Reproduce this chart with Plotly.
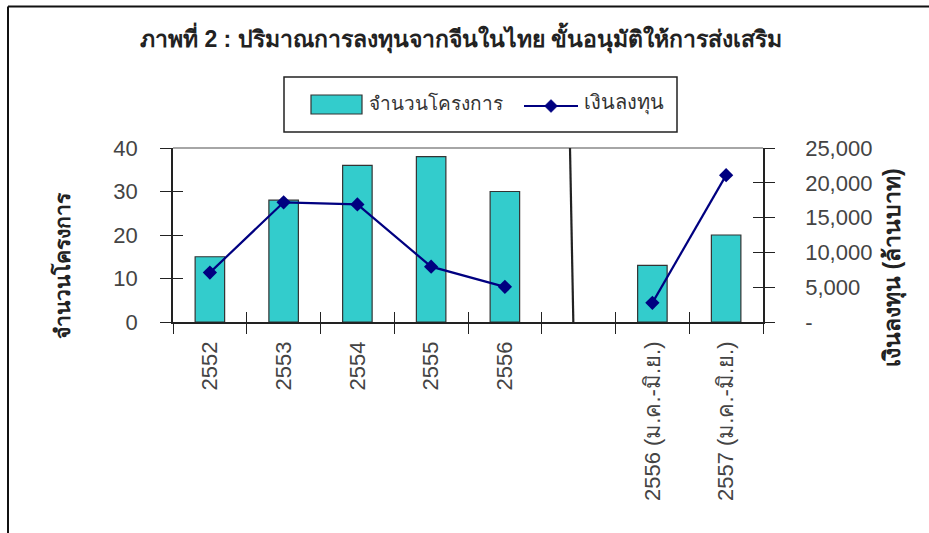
import plotly.graph_objects as go

# Categories (blank slot separates full years from half-year figures)
categories = ["2552", "2553", "2554", "2555", "2556", " ",
              "2556 (ม.ค.-มิ.ย.)", "2557 (ม.ค.-มิ.ย.)"]
projects = [15, 28, 36, 38, 30, None, 13, 20]          # จำนวนโครงการ
investment = [7100, 17200, 16900, 7950, 5050, None, 2750, 21100]  # เงินลงทุน (ล้านบาท)

left_ticks = [0, 10, 20, 30, 40]
right_ticks = [0, 5000, 10000, 15000, 20000, 25000]
right_ticktext = ["-", "5,000", "10,000", "15,000", "20,000", "25,000"]

W, H = 929, 533
L, R, T, B = 173, 763, 148, 322   # plot area edges in pixels

FONT = "Liberation Sans, Arial, sans-serif"
TICK_COLOR = "#444444"
BAR_COLOR = "#33CCCC"
LINE_COLOR = "#000080"


def px_x(p):
    return (p - L) / (R - L)


def px_y(p):
    return (B - p) / (B - T)


fig = go.Figure()

fig.add_trace(go.Bar(
    x=categories, y=projects, name="จำนวนโครงการ",
    marker=dict(color=BAR_COLOR, line=dict(color="#333333", width=1.2)),
    width=0.4, yaxis="y",
))

fig.add_trace(go.Scatter(
    x=categories, y=investment, name="เงินลงทุน",
    mode="lines+markers", connectgaps=False,
    line=dict(color=LINE_COLOR, width=2.2),
    marker=dict(symbol="diamond", size=11, color=LINE_COLOR),
    yaxis="y2",
))

fig.update_layout(
    width=W, height=H,
    margin=dict(l=L, r=W - R, t=T, b=H - B),
    paper_bgcolor="white", plot_bgcolor="white",
    font=dict(family=FONT, color="#222222"),
    showlegend=False,
    xaxis=dict(
        type="category", categoryorder="array", categoryarray=categories,
        range=[-0.5, 7.5], tickson="boundaries",
        showline=True, linecolor="#222222", linewidth=1.5,
        ticks="outside", ticklen=10, tickwidth=1.3, tickcolor="#222222",
        tickangle=-90, tickfont=dict(size=22, color=TICK_COLOR, family=FONT),
        ticklabelstandoff=9,
        showgrid=False, zeroline=False,
    ),
    yaxis=dict(
        range=[0, 40], tickvals=left_ticks,
        showline=True, linecolor="#222222", linewidth=1.5,
        ticks="outside", ticklen=11, tickwidth=1.3, tickcolor="#222222",
        tickfont=dict(size=22, color=TICK_COLOR, family=FONT),
        ticklabelstandoff=18,
        showgrid=False, zeroline=False,
    ),
    yaxis2=dict(
        overlaying="y", side="right", range=[0, 25000],
        tickvals=right_ticks, ticktext=right_ticktext,
        showline=True, linecolor="#222222", linewidth=1.5,
        ticks="outside", ticklen=10, tickwidth=1.3, tickcolor="#222222",
        tickfont=dict(size=22, color=TICK_COLOR, family=FONT),
        ticklabelstandoff=26,
        showgrid=False, zeroline=False,
    ),
    # overlay axes carrying the inner half of the crossing tick marks
    xaxis2=dict(
        overlaying="x", range=[-0.5, 7.5], tickvals=[i + 0.5 for i in range(-1, 8)],
        ticks="inside", ticklen=10, tickwidth=1.3, tickcolor="#222222",
        showticklabels=False, showgrid=False, zeroline=False, showline=False,
    ),
    yaxis3=dict(
        overlaying="y", range=[0, 40], tickvals=left_ticks,
        ticks="inside", ticklen=10, tickwidth=1.3, tickcolor="#222222",
        showticklabels=False, showgrid=False, zeroline=False, showline=False,
    ),
    yaxis4=dict(
        overlaying="y", side="right", range=[0, 25000], tickvals=right_ticks,
        ticks="inside", ticklen=10, tickwidth=1.3, tickcolor="#222222",
        showticklabels=False, showgrid=False, zeroline=False, showline=False,
    ),
)

# invisible traces so the overlay axes are drawn
fig.add_trace(go.Scatter(x=[0], y=[0], xaxis="x2", yaxis="y3", mode="markers",
                         marker=dict(opacity=0), showlegend=False, hoverinfo="skip"))
fig.add_trace(go.Scatter(x=[0], y=[0], xaxis="x2", yaxis="y4", mode="markers",
                         marker=dict(opacity=0), showlegend=False, hoverinfo="skip"))


def rect(x0, y0, x1, y1, **kw):
    return dict(type="rect", xref="paper", yref="paper",
                x0=px_x(x0), x1=px_x(x1), y0=px_y(y0), y1=px_y(y1), **kw)


def seg(x0, y0, x1, y1, color, width):
    return dict(type="line", xref="paper", yref="paper",
                x0=px_x(x0), x1=px_x(x1), y0=px_y(y0), y1=px_y(y1),
                line=dict(color=color, width=width))


# legend key geometry (pixels)
dx, dy, dr = 551, 106, 6.5
diamond = "M {},{} L {},{} L {},{} L {},{} Z".format(
    px_x(dx), px_y(dy - dr), px_x(dx + dr), px_y(dy),
    px_x(dx), px_y(dy + dr), px_x(dx - dr), px_y(dy))

shapes = [
    # top edge of plot area
    dict(type="line", xref="paper", yref="paper", x0=0, x1=1, y0=1, y1=1,
         line=dict(color="#888888", width=1.5)),
    # divider between full-year and half-year groups
    dict(type="line", xref="x", yref="paper", x0=4.883, x1=4.928, y0=1, y1=0,
         line=dict(color="#222222", width=2.2)),
    # outer frame: top and left edges
    seg(8, 6.5, W + 2, 6.5, "#111111", 2),
    seg(8, 6.5, 8, H + 2, "#111111", 2),
    # legend box and keys
    rect(284, 77, 677, 132, line=dict(color="#222222", width=1.5), fillcolor="white"),
    rect(311, 95, 362, 114, line=dict(color="#333333", width=1.2), fillcolor=BAR_COLOR),
    seg(524, dy, 578, dy, LINE_COLOR, 2.2),
    dict(type="path", xref="paper", yref="paper", path=diamond,
         fillcolor=LINE_COLOR, line=dict(color=LINE_COLOR, width=0.5)),
]
fig.update_layout(shapes=shapes)

annotations = [
    dict(text="<b>ภาพที่ 2 : ปริมาณการลงทุนจากจีนในไทย ขั้นอนุมัติให้การส่งเสริม</b>",
         xref="paper", yref="paper", x=px_x(461), y=px_y(38),
         xanchor="center", yanchor="middle", showarrow=False,
         font=dict(size=23, color="#222222", family=FONT)),
    dict(text="<b>จำนวนโครงการ</b>", textangle=-90,
         xref="paper", yref="paper", x=px_x(62), y=px_y(266),
         xanchor="center", yanchor="middle", showarrow=False,
         font=dict(size=21, color="#222222", family=FONT)),
    dict(text="<b>เงินลงทุน (ล้านบาท)</b>", textangle=-90,
         xref="paper", yref="paper", x=px_x(893), y=px_y(268),
         xanchor="center", yanchor="middle", showarrow=False,
         font=dict(size=23, color="#222222", family=FONT)),
    dict(text="จำนวนโครงการ", xref="paper", yref="paper",
         x=px_x(367), y=px_y(103), xanchor="left", yanchor="middle", showarrow=False,
         font=dict(size=19, color="#333333", family=FONT)),
    dict(text="เงินลงทุน", xref="paper", yref="paper",
         x=px_x(582), y=px_y(103), xanchor="left", yanchor="middle", showarrow=False,
         font=dict(size=20, color="#333333", family=FONT)),
]
fig.update_layout(annotations=annotations)

fig.write_html("out.html")
